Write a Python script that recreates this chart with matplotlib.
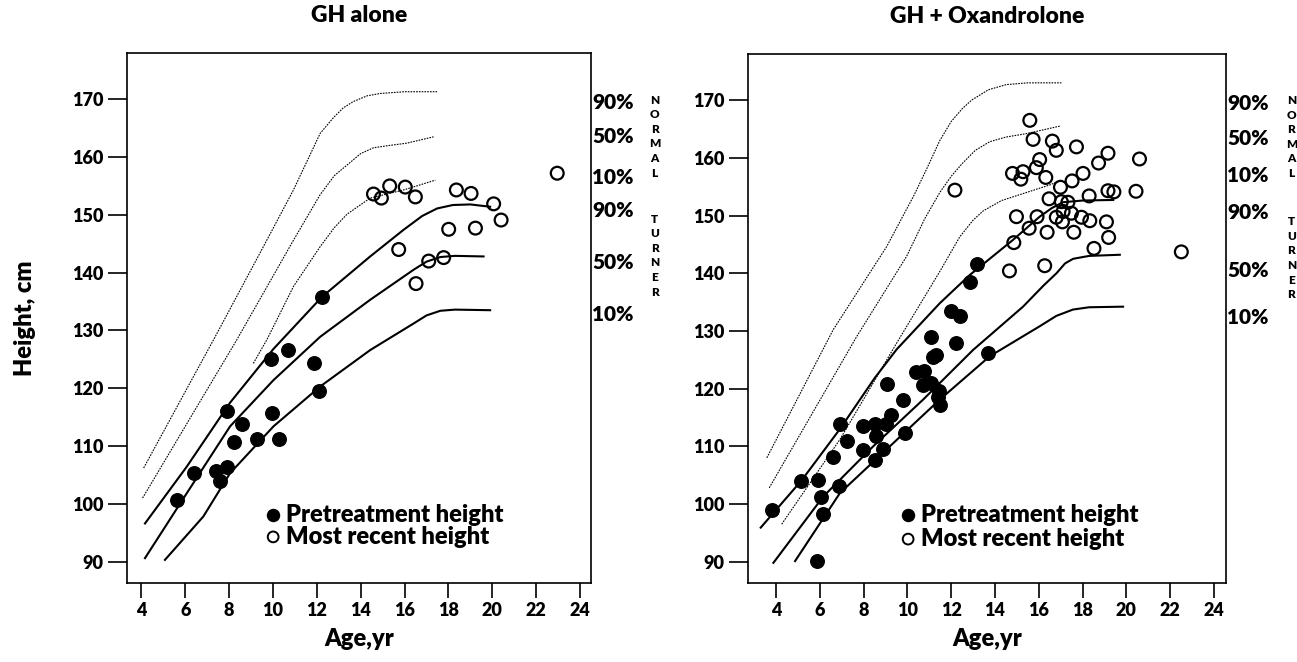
import matplotlib
matplotlib.use('Agg')
import matplotlib.pyplot as plt

plt.rcParams['font.family'] = ['Lato', 'DejaVu Sans']
plt.rcParams['font.weight'] = 'heavy'
W = 'heavy'

# ---- GH alone: reference curves (age, cm) ----
gh_n90_age = [4.1, 7.36, 9.56, 10.93, 12.15, 12.75, 13.2, 13.66, 14.3, 14.9, 16.0, 17.48]
gh_n90_h = [106.2, 128.9, 144.5, 154.3, 164.1, 166.8, 168.5, 169.6, 170.6, 171.0, 171.3, 171.3]
gh_n50_age = [4.05, 8.35, 10.93, 12.15, 12.8, 13.37, 14.0, 14.58, 15.3, 16.1, 17.32]
gh_n50_h = [101.0, 128.4, 145.6, 153.5, 156.8, 158.6, 160.6, 161.6, 162.0, 162.4, 163.5]
gh_n10_age = [9.1, 9.72, 10.93, 12.15, 12.8, 13.37, 14.43, 15.95, 17.4]
gh_n10_h = [124.3, 128.4, 137.6, 144.5, 147.8, 150.1, 152.9, 154.3, 156.0]
gh_t90_age = [4.16, 6.06, 8.04, 10.02, 12.23, 14.43, 15.95, 16.8, 17.48, 18.2, 19.0, 19.9]
gh_t90_h = [96.6, 106.4, 117.5, 126.8, 135.8, 142.8, 147.4, 149.8, 151.1, 151.7, 151.8, 151.4]
gh_t50_age = [4.16, 6.06, 8.04, 10.02, 12.15, 14.43, 16.41, 17.0, 17.63, 18.3, 19.6]
gh_t50_h = [90.6, 101.8, 113.4, 121.4, 128.9, 135.3, 140.5, 141.9, 142.7, 142.9, 142.8]
gh_t10_age = [5.07, 6.82, 8.04, 10.02, 12.15, 14.43, 16.41, 17.0, 17.63, 18.3, 19.9]
gh_t10_h = [90.3, 97.8, 105.3, 113.4, 120.3, 126.6, 131.2, 132.6, 133.4, 133.6, 133.5]

# ---- GH alone: patients ----
gh_pre_age = [5.61, 6.4, 7.39, 7.58, 7.89, 7.89, 8.22, 8.6, 9.26, 9.91, 9.95, 10.25,
              10.7, 11.88, 12.1, 12.23]
gh_pre_h = [100.7, 105.3, 105.6, 104.0, 106.4, 116.0, 110.7, 113.8, 111.2, 125.1, 115.7,
            111.2, 126.6, 124.4, 119.5, 135.8]
gh_rec_age = [14.58, 14.94, 15.32, 16.03, 16.49, 18.36, 19.03, 20.06, 20.4, 19.23, 18.01,
              15.73, 17.1, 17.78, 16.52, 22.96]
gh_rec_h = [153.6, 152.9, 155.0, 154.8, 153.1, 154.3, 153.7, 151.9, 149.1, 147.7, 147.5,
            144.0, 142.0, 142.6, 138.1, 157.2]

# ---- GH + Oxandrolone: reference curves ----
ox_n90_age = [3.58, 6.61, 9.05, 10.3, 10.87, 11.48, 12.0, 12.5, 12.93, 13.7, 14.52, 15.5, 17.03]
ox_n90_h = [108.0, 130.2, 144.6, 153.5, 158.0, 163.0, 166.3, 168.5, 170.0, 171.8, 172.7,
            173.0, 173.0]
ox_n50_age = [3.69, 7.68, 9.96, 10.8, 11.48, 12.0, 12.5, 13.1, 13.76, 14.5, 15.44, 16.96]
ox_n50_h = [102.8, 129.0, 142.9, 149.5, 154.0, 156.8, 159.0, 161.3, 162.8, 163.6, 164.2, 165.5]
ox_n10_age = [4.26, 6.92, 9.51, 11.48, 12.39, 13.0, 13.46, 14.3, 15.28, 16.5, 17.0]
ox_n10_h = [96.5, 111.2, 127.9, 140.3, 146.3, 149.2, 150.8, 152.6, 153.8, 155.3, 156.1]
ox_t90_age = [3.3, 5.17, 6.92, 8.5, 9.51, 11.48, 12.85, 14.83, 16.04, 16.6, 17.1, 18.0, 19.4]
ox_t90_h = [95.9, 104.1, 113.0, 121.8, 126.8, 134.8, 139.7, 145.8, 149.8, 151.3, 152.3,
            152.6, 152.7]
ox_t50_age = [3.88, 6.16, 8.44, 10.72, 13.0, 15.28, 16.2, 16.81, 17.2, 17.57, 18.3, 19.7]
ox_t50_h = [89.8, 101.3, 110.0, 118.1, 126.7, 134.2, 137.8, 140.0, 141.7, 142.5, 143.0, 143.2]
ox_t10_age = [4.87, 6.92, 9.2, 11.48, 13.76, 16.04, 16.8, 17.56, 18.3, 19.85]
ox_t10_h = [90.1, 101.9, 110.0, 118.1, 125.6, 130.8, 132.6, 133.7, 134.1, 134.2]

# ---- GH + Oxandrolone: patients ----
ox_pre_age = [3.8, 5.14, 5.93, 6.05, 6.13, 5.86, 6.59, 6.92, 6.89, 7.25, 7.98, 7.98, 8.52,
              8.55, 8.52, 9.0, 9.23, 8.9, 9.05, 9.81, 9.89, 10.39, 10.77, 10.69, 11.07,
              11.15, 11.3, 11.07, 11.45, 11.4, 11.48, 11.97, 12.39, 12.21, 12.85, 13.18,
              13.69]
ox_pre_h = [99.0, 103.9, 104.1, 101.2, 98.2, 90.1, 108.2, 113.9, 103.1, 110.9, 113.6, 109.4,
            113.9, 111.7, 107.6, 113.9, 115.5, 109.6, 120.8, 118.0, 112.3, 122.8, 123.1,
            120.6, 128.9, 125.5, 125.9, 121.0, 119.5, 118.5, 117.1, 133.4, 132.5, 127.9,
            138.5, 141.6, 126.2]
ox_rec_age = [15.59, 15.74, 16.62, 16.8, 17.72, 19.16, 18.73, 20.6, 16.04, 15.89, 16.32,
              14.8, 15.28, 15.18, 12.17, 16.99, 17.52, 18.02, 18.3, 19.16, 19.43, 20.44,
              16.47, 17.03, 17.33, 17.11, 17.49, 16.8, 17.08, 17.95, 18.33, 19.09, 15.92,
              14.98, 15.56, 16.38, 17.6, 19.19, 14.86, 18.52, 14.66, 16.27, 22.51]
ox_rec_h = [166.5, 163.2, 162.9, 161.3, 161.9, 160.8, 159.1, 159.8, 159.7, 158.3, 156.6,
            157.3, 157.6, 156.3, 154.4, 154.9, 156.0, 157.3, 153.4, 154.3, 154.1, 154.2,
            152.9, 152.4, 152.3, 150.7, 150.4, 149.7, 148.9, 149.7, 149.1, 148.9, 149.8,
            149.8, 147.8, 147.1, 147.1, 146.2, 145.3, 144.3, 140.4, 141.3, 143.7]

pct_labels = ['90%', '50%', '10%', '90%', '50%', '10%']
gh_label_y = [169.4, 163.5, 156.5, 150.8, 141.8, 132.7]
ox_label_y = [169.5, 163.3, 156.9, 150.5, 140.5, 132.3]

yticks = list(range(90, 171, 10))
xticks = list(range(4, 25, 2))

fig = plt.figure(figsize=(12.97, 6.62), dpi=100)
ax1 = fig.add_axes([127 / 1297, 1 - 583 / 662, 464 / 1297, 530 / 662])
ax2 = fig.add_axes([748 / 1297, 1 - 583 / 662, 478 / 1297, 529 / 662])

dot = dict(color='black', lw=0.8, linestyle=(0, (1.5, 1.0)))
solid = dict(color='black', lw=1.5)


def draw_panel(ax, curves_n, curves_t, pre, rec, title, xlim, label_y):
    for a, h in curves_n:
        ax.plot(a, h, **dot)
    for a, h in curves_t:
        ax.plot(a, h, **solid)
    ax.scatter(pre[0], pre[1], s=95, color='black', zorder=3)
    ax.scatter(rec[0], rec[1], s=85, facecolors='none', edgecolors='black',
               linewidths=1.6, zorder=3)

    ax.set_xlim(*xlim)
    ax.set_ylim(86.3, 178)
    ax.set_xticks(xticks)
    ax.set_yticks(yticks)
    ax.tick_params(axis='x', direction='out', length=11, width=1.2, pad=3, labelsize=13)
    ax.tick_params(axis='y', direction='out', length=14, width=1.2, pad=3, labelsize=13)
    for lab in ax.get_xticklabels() + ax.get_yticklabels():
        lab.set_fontweight(W)
    for sp in ax.spines.values():
        sp.set_linewidth(1.2)
    ax.set_title(title, fontsize=16.5, fontweight=W, pad=22)
    ax.set_xlabel('Age,yr', fontsize=17, fontweight=W, labelpad=6)

    # percentile labels outside the frame
    tr = ax.get_yaxis_transform()
    for txt, y in zip(pct_labels, label_y):
        ax.text(1.003, y, txt, transform=tr, fontsize=15, fontweight=W,
                ha='left', va='center', clip_on=False)
    ax.text(1.137, label_y[0] + 1.4, 'N\nO\nR\nM\nA\nL', transform=tr, fontsize=8.5,
            fontweight=W, ha='center', va='top', linespacing=1.4)
    ax.text(1.137, label_y[3] - 0.6, 'T\nU\nR\nN\nE\nR', transform=tr, fontsize=8.5,
            fontweight=W, ha='center', va='top', linespacing=1.4)


draw_panel(ax1,
           [(gh_n90_age, gh_n90_h), (gh_n50_age, gh_n50_h), (gh_n10_age, gh_n10_h)],
           [(gh_t90_age, gh_t90_h), (gh_t50_age, gh_t50_h), (gh_t10_age, gh_t10_h)],
           (gh_pre_age, gh_pre_h), (gh_rec_age, gh_rec_h),
           'GH alone', (3.34, 24.5), gh_label_y)
draw_panel(ax2,
           [(ox_n90_age, ox_n90_h), (ox_n50_age, ox_n50_h), (ox_n10_age, ox_n10_h)],
           [(ox_t90_age, ox_t90_h), (ox_t50_age, ox_t50_h), (ox_t10_age, ox_t10_h)],
           (ox_pre_age, ox_pre_h), (ox_rec_age, ox_rec_h),
           'GH + Oxandrolone', (2.72, 24.55), ox_label_y)

ax1.set_ylabel('Height, cm', fontsize=17, fontweight=W, labelpad=26)

# hand-made legends
for ax, mx, tx, y1, y2 in [(ax1, 0.315, 0.343, 0.128, 0.087),
                           (ax2, 0.335, 0.362, 0.128, 0.083)]:
    ax.scatter([mx], [y1], s=75, color='black', transform=ax.transAxes, clip_on=False)
    ax.scatter([mx], [y2], s=60, facecolors='none', edgecolors='black', linewidths=1.4,
               transform=ax.transAxes, clip_on=False)
    ax.text(tx, y1, 'Pretreatment height', transform=ax.transAxes, fontsize=17,
            fontweight=W, va='center', ha='left')
    ax.text(tx, y2, 'Most recent height', transform=ax.transAxes, fontsize=17,
            fontweight=W, va='center', ha='left')

plt.savefig('out.png', dpi=100, facecolor='white')
plt.close()
